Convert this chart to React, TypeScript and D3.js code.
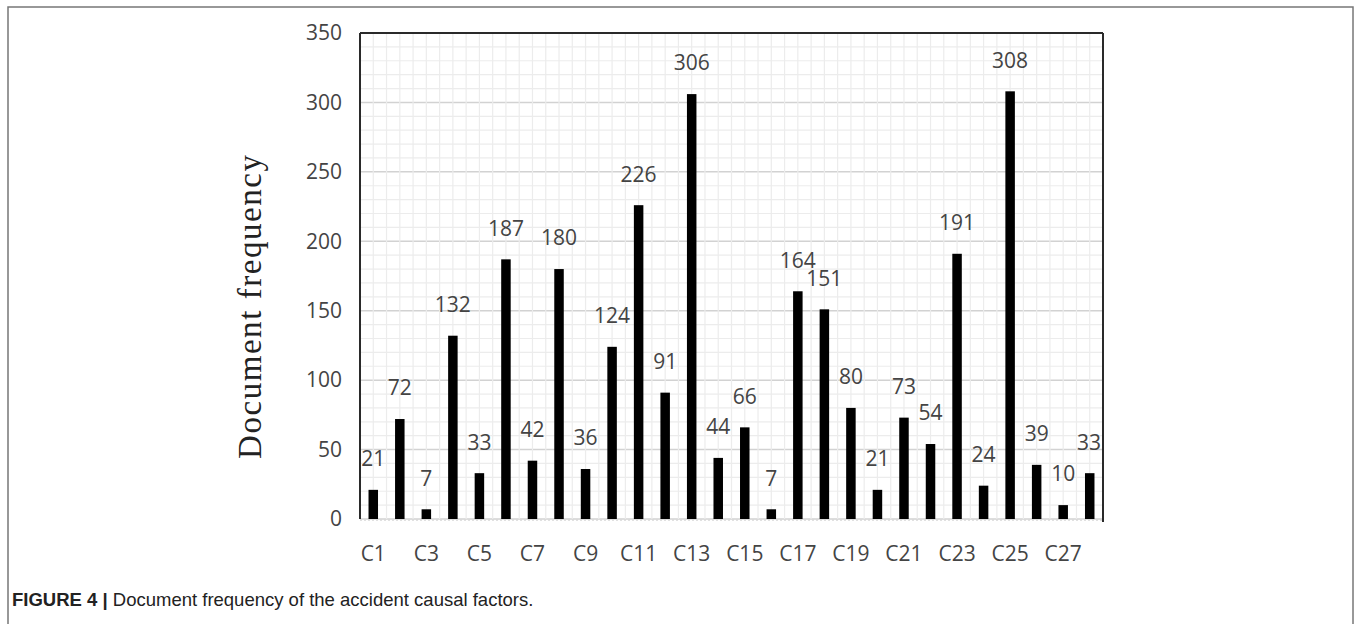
import React from "react";
import * as d3 from "d3";

const categories = Array.from({ length: 28 }, (_, i) => `C${i + 1}`);
const values = [21, 72, 7, 132, 33, 187, 42, 180, 36, 124, 226, 91, 306, 44, 66, 7, 164, 151, 80, 21, 73, 54, 191, 24, 308, 39, 10, 33];
const yTicks = [0, 50, 100, 150, 200, 250, 300, 350];
const xTickLabels = categories.filter((_, i) => i % 2 === 0);

const W = 1356;
const H = 624;
const left = 360, right = 1103, top = 33, bottom = 519;

export default function App() {
  const x = d3.scaleBand<string>().domain(categories).range([left, right]).padding(0);
  const y = d3.scaleLinear().domain([0, 350]).range([bottom, top]);
  const bw = x.bandwidth();
  const minorY = d3.range(0, 351, 10);
  const minorX = d3.range(0, categories.length * 2 + 1).map((k) => left + (k * bw) / 2);
  const barW = 9.5;
  const tickFont = "'Open Sans', 'Noto Sans', sans-serif";
  const textColor = "#444";

  return (
    <svg width={W} height={H} style={{ position: "absolute", left: 0, top: 0, background: "#fff" }}>
      <rect x={8} y={7} width={1345} height={700} fill="#fff" stroke="#777" strokeWidth={1.5} />
      {minorY.map((v) => (
        <line key={"hy" + v} x1={left} x2={right} y1={y(v)} y2={y(v)} stroke={v % 50 === 0 ? "#d2d2d2" : "#ececec"} strokeWidth={v % 50 === 0 ? 1.5 : 1.2} />
      ))}
      {minorX.map((px, k) => (
        <line key={"vx" + k} x1={px} x2={px} y1={top} y2={bottom} stroke="#ececec" strokeWidth={1.2} />
      ))}
      <line x1={left} x2={right} y1={bottom + 1} y2={bottom + 1} stroke="#d8d8d8" strokeWidth={1.5} strokeDasharray="2,2" />
      <line x1={left} x2={right} y1={top} y2={top} stroke="#2a2a2a" strokeWidth={2} />
      <line x1={left} x2={left} y1={top} y2={bottom} stroke="#2a2a2a" strokeWidth={2} />
      <line x1={right} x2={right} y1={top} y2={bottom + 3} stroke="#2a2a2a" strokeWidth={2} />
      {values.map((v, i) => (
        <rect key={"b" + i} x={(x(categories[i]) as number) + bw / 2 - barW / 2} y={y(v)} width={barW} height={y(0) - y(v)} fill="#000" />
      ))}
      {values.map((v, i) => (
        <text key={"l" + i} x={Math.min((x(categories[i]) as number) + bw / 2, right - 14)} y={y(v) - 31} dy="0.35em" textAnchor="middle" fontFamily={tickFont} fontSize={21} fill={textColor}>
          {v}
        </text>
      ))}
      {yTicks.map((t) => (
        <text key={"yt" + t} x={342} y={y(t)} dy="0.35em" textAnchor="end" fontFamily={tickFont} fontSize={21} fill={textColor}>
          {t}
        </text>
      ))}
      {xTickLabels.map((c) => (
        <text key={"xt" + c} x={(x(c) as number) + bw / 2} y={554} dy="0.35em" textAnchor="middle" fontFamily={tickFont} fontSize={21} fill={textColor}>
          {c}
        </text>
      ))}
      <text transform={`translate(261, 307) rotate(-90)`} textAnchor="middle" fontFamily="'Liberation Serif', 'DejaVu Serif', serif" fontSize={33} fill="#222" textLength={304} lengthAdjust="spacing">
        Document frequency
      </text>
      <text x={12} y={606} fontFamily="'Liberation Sans', Arial, sans-serif" fontSize={18.5} fill="#222">
        <tspan fontWeight="bold">FIGURE 4 | </tspan>
        <tspan>Document frequency of the accident causal factors.</tspan>
      </text>
    </svg>
  );
}
